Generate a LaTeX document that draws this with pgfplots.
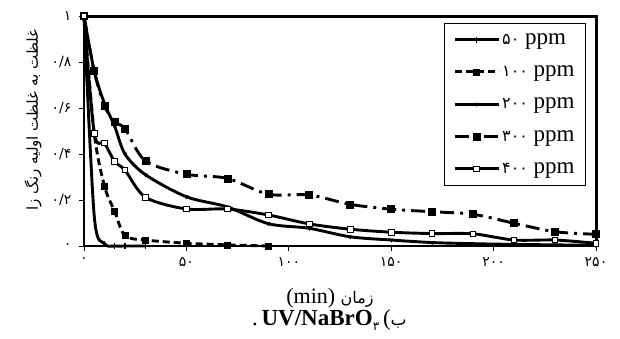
\documentclass[border=0pt]{standalone}
\usepackage{pgfplots}
\pgfplotsset{compat=1.18}
\usepackage{fontspec}
\setmainfont{Liberation Serif}
\newfontfamily\fa[Script=Arabic]{DejaVu Sans}
\TeXXeTstate=1

\pgfplotstableread{
x y
0 1
5 0.13
10 0.01
15 0
20 0
30 0
}\tA
\pgfplotstableread{
x y
0 1
5 0.49
10 0.26
15 0.15
20 0.045
30 0.026
50 0.012
70 0.005
90 0
}\tB
\pgfplotstableread{
x y
0 1
5 0.76
10 0.62
15 0.52
20 0.40
30 0.31
50 0.214
70 0.17
90 0.097
110 0.077
130 0.04
150 0.026
170 0.015
190 0.01
210 0.007
230 0.005
250 0.003
}\tC
\pgfplotstableread{
x y
0 1
5 0.76
10 0.61
15 0.54
20 0.51
30 0.37
50 0.312
70 0.294
90 0.225
110 0.222
130 0.181
150 0.16
170 0.149
190 0.138
210 0.099
230 0.062
250 0.051
}\tD
\pgfplotstableread{
x y
0 1
5 0.49
10 0.447
15 0.367
20 0.33
30 0.212
50 0.161
70 0.161
90 0.135
110 0.096
130 0.073
150 0.06
170 0.054
190 0.053
210 0.026
230 0.026
250 0.012
}\tE

\begin{document}
\begin{tikzpicture}
\useasboundingbox (-84pt,-92pt) rectangle (536pt,246pt);
\begin{axis}[
  at={(0pt,0pt)}, anchor=south west,
  scale only axis, width=512pt, height=230pt,
  xmin=0, xmax=250, ymin=0, ymax=1,
  clip=false,
  axis line style={line width=1.6pt},
  tick align=outside, major tick length=5pt,
  xtick pos=bottom, ytick pos=left,
  tick style={black, line width=0.9pt},
  xtick={0,50,100,150,200,250},
  xticklabels={۰,۵۰,۱۰۰,۱۵۰,۲۰۰,۲۵۰},
  ytick={0,0.2,0.4,0.6,0.8,1},
  yticklabels={۰,۰/۲,۰/۴,۰/۶,۰/۸,۱},
  ticklabel style={font=\fa\fontsize{14}{16}\selectfont},
  xticklabel style={yshift=-3pt},
  yticklabel style={xshift=-4pt},
  legend style={at={(0.9805,0.9696)}, anchor=north east, draw=black, line width=0.8pt,
    font=\fontsize{23}{25}\selectfont, row sep=16pt, inner xsep=9pt, inner ysep=8pt},
  legend cell align=left,
  legend image code/.code={\draw[mark repeat=2,mark phase=2,#1] plot coordinates {(0pt,0pt) (22pt,0pt) (44pt,0pt)};},
]
\addplot[black, smooth, tension=0.5, line width=2.9pt, mark=|, mark size=3pt, mark options={solid, line width=1.2pt}] table {\tA};
\addlegendentry{{\fa\fontsize{16}{18}\selectfont ۵۰} ppm}
\addplot[black, smooth, tension=0.5, line width=2.9pt, dash pattern=on 7pt off 4pt, mark=square*, mark size=3pt, mark options={solid, fill=black, line width=0.6pt}] table {\tB};
\addlegendentry{{\fa\fontsize{16}{18}\selectfont ۱۰۰} ppm}
\addplot[black, smooth, tension=0.5, line width=2.9pt, mark=triangle*, mark size=2pt, mark options={solid, fill=black, rotate=180, line width=0.6pt}] table {\tC};
\addlegendentry{{\fa\fontsize{16}{18}\selectfont ۲۰۰} ppm}
\addplot[black, smooth, tension=0.5, line width=2.9pt, dash pattern=on 14pt off 6pt on 3pt off 6pt, mark=square*, mark size=3.5pt, mark options={solid, fill=black, line width=0.6pt}] table {\tD};
\addlegendentry{{\fa\fontsize{16}{18}\selectfont ۳۰۰} ppm}
\addplot[black, smooth, tension=0.5, line width=2.9pt, mark=square*, mark size=2.8pt, mark options={solid, fill=white, line width=1pt}] table {\tE};
\addlegendentry{{\fa\fontsize{16}{18}\selectfont ۴۰۰} ppm}
\draw[line width=3pt] (rel axis cs:0,1) -- (rel axis cs:1,1) -- (rel axis cs:1,0);
\node[rotate=90, font=\fa\fontsize{15}{17}\selectfont] at (rel axis cs:-0.0996,0.548) {\beginR غلظت به غلظت اولیه رنگ زا\endR};
\node[font=\fontsize{22}{24}\selectfont] at (rel axis cs:0.4805,-0.226) {(min) {\fa\fontsize{16}{18}\selectfont\beginR زمان\endR}};
\node[font=\fontsize{23}{25}\selectfont] at (rel axis cs:0.4793,-0.322) {.\,\textbf{UV/NaBrO}\raisebox{-5pt}{\fa\fontsize{12}{13}\selectfont ۳}\,({\fa\fontsize{17}{19}\selectfont\beginR ب\endR}};
\end{axis}
\end{tikzpicture}
\end{document}
